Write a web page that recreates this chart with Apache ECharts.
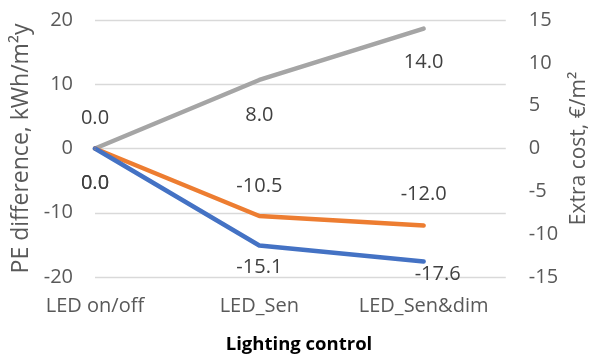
<!DOCTYPE html>
<html><head><meta charset="utf-8">
<script src="https://cdn.jsdelivr.net/npm/echarts@6/dist/echarts.min.js"></script>
<style>html,body{margin:0;padding:0;background:#fff}#c{width:598px;height:356px}</style>
</head><body><div id="c"></div>
<script>
var categories = ['LED on/off', 'LED_Sen', 'LED_Sen&dim'];
var peBlue = [0.0, -15.1, -17.6];
var peOrange = [0.0, -10.5, -12.0];
var extraCost = [0.0, 8.0, 14.0];
var leftTicks = [-20, -10, 0, 10, 20];
var rightTicks = [-15, -10, -5, 0, 5, 10, 15];

// label offsets (style, not data)
var offBlue = [[0, 35], [0, 22], [14, 13]];
var offOrange = [[0, 35], [0, -30], [0, -31]];
var offGray = [[0, -30], [0, 35], [0, 34]];

var FONT = 'Open Sans';
function mk(vals, offs) {
  return vals.map(function (v, i) {
    return { value: [i, v], label: { offset: offs[i] } };
  });
}
function series(name, vals, offs, color, axis) {
  return {
    name: name, type: 'line', yAxisIndex: axis,
    data: mk(vals, offs),
    symbol: 'circle', symbolSize: 2, itemStyle: { color: color },
    lineStyle: { color: color, width: 4.5, cap: 'round', join: 'round' },
    label: { show: true, position: 'inside', color: '#404040', fontSize: 20, fontFamily: FONT,
      formatter: function (p) { return p.value[1].toFixed(1); } },
    emphasis: { disabled: true }, animation: false
  };
}
var chart = echarts.init(document.getElementById('c'), null, { renderer: 'canvas' });
chart.setOption({
  animation: false,
  title: { text: 'Lighting control', left: 'center', top: 330,
    textStyle: { fontSize: 18.5, fontWeight: 'bold', color: '#000', fontFamily: FONT } },
  grid: { left: 95, right: 82, top: 20, bottom: 79 },
  xAxis: { type: 'value', min: 0, max: 2.5, interval: 1,
    axisLine: { show: false }, axisTick: { show: false }, splitLine: { show: false },
    axisLabel: { showMaxLabel: false, margin: 19, color: '#595959', fontSize: 20, fontFamily: FONT,
      formatter: function (v) { return categories[v] || ''; } } },
  yAxis: [
    { type: 'value', min: leftTicks[0], max: leftTicks[leftTicks.length - 1], interval: 10,
      name: 'PE difference, kWh/m²y', nameLocation: 'middle', nameGap: 52,
      nameTextStyle: { color: '#595959', fontSize: 23, fontFamily: FONT },
      axisLine: { show: false }, axisTick: { show: false },
      splitLine: { lineStyle: { color: '#D9D9D9', width: 1.3 } },
      axisLabel: { margin: 22, color: '#595959', fontSize: 20, fontFamily: FONT } },
    { type: 'value', min: rightTicks[0], max: rightTicks[rightTicks.length - 1], interval: 5,
      name: 'Extra cost, €/m²', nameLocation: 'middle', nameGap: 55,
      nameTextStyle: { color: '#595959', fontSize: 21, fontFamily: FONT },
      axisLine: { show: false }, axisTick: { show: false }, splitLine: { show: false },
      axisLabel: { margin: 23, color: '#595959', fontSize: 20, fontFamily: FONT } }
  ],
  series: [
    series('Extra cost', extraCost, offGray, '#A5A5A5', 1),
    series('PE orange', peOrange, offOrange, '#ED7D31', 0),
    series('PE blue', peBlue, offBlue, '#4472C4', 0)
  ]
});
</script></body></html>
